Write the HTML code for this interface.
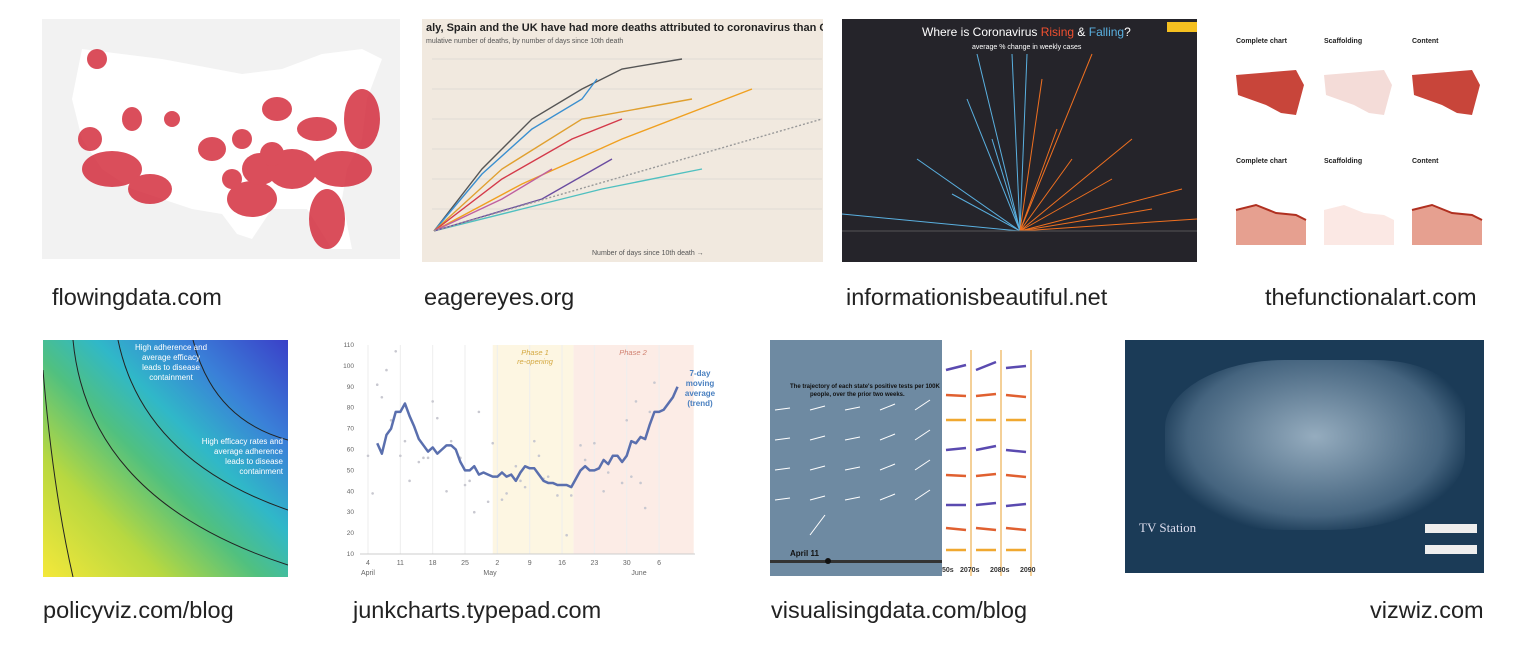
<!DOCTYPE html>
<html><head><meta charset="utf-8">
<style>
body{margin:0;width:1526px;height:655px;background:#fff;position:relative;overflow:hidden;font-family:"Liberation Sans",sans-serif}
.t{position:absolute;overflow:hidden}
.cap{position:absolute;font-size:23.5px;color:#222;white-space:nowrap;line-height:26px}
</style></head><body>

<div class="t" style="left:42px;top:19px;width:358px;height:240px;background:#f2f2f2">
<svg width="358" height="240">
<path d="M40 30 L120 40 L200 55 L240 50 L280 35 L320 30 L340 40 L325 80 L320 120 L305 150 L300 180 L310 230 L290 230 L265 190 L230 190 L210 220 L195 215 L180 195 L150 190 L120 180 L90 170 L60 150 L40 120 L30 80 Z" fill="#fff"/>
<g fill="#d22233" opacity="0.8">
<ellipse cx="70" cy="150" rx="30" ry="18"/><ellipse cx="108" cy="170" rx="22" ry="15"/><ellipse cx="48" cy="120" rx="12" ry="12"/>
<ellipse cx="90" cy="100" rx="10" ry="12"/><ellipse cx="210" cy="180" rx="25" ry="18"/><ellipse cx="218" cy="150" rx="18" ry="16"/>
<ellipse cx="285" cy="200" rx="18" ry="30"/><ellipse cx="300" cy="150" rx="30" ry="18"/><ellipse cx="320" cy="100" rx="18" ry="30"/>
<ellipse cx="275" cy="110" rx="20" ry="12"/><ellipse cx="235" cy="90" rx="15" ry="12"/><ellipse cx="250" cy="150" rx="25" ry="20"/>
<ellipse cx="170" cy="130" rx="14" ry="12"/><ellipse cx="200" cy="120" rx="10" ry="10"/><ellipse cx="55" cy="40" rx="10" ry="10"/>
<ellipse cx="130" cy="100" rx="8" ry="8"/><ellipse cx="230" cy="135" rx="12" ry="12"/><ellipse cx="190" cy="160" rx="10" ry="10"/>
</g></svg></div>
<div class="cap" style="left:52px;top:284px">flowingdata.com</div>

<div class="t" style="left:422px;top:19px;width:401px;height:243px;background:#f1e9df">
<svg width="401" height="243">
<text x="4" y="12" font-size="11" fill="#222" font-weight="bold">aly, Spain and the UK have had more deaths attributed to coronavirus than China did at the same stage</text>
<text x="4" y="24" font-size="7" fill="#555">mulative number of deaths, by number of days since 10th death</text>
<g stroke="#ccc" stroke-width="0.6">
<line x1="10" y1="40" x2="400" y2="40"/><line x1="10" y1="70" x2="400" y2="70"/><line x1="10" y1="100" x2="400" y2="100"/><line x1="10" y1="130" x2="400" y2="130"/><line x1="10" y1="160" x2="400" y2="160"/><line x1="10" y1="190" x2="400" y2="190"/>
</g>
<g fill="none" stroke-width="1.4">
<path d="M12 212 L60 150 L110 100 L160 70 L200 50 L260 40" stroke="#555"/>
<path d="M12 212 L60 155 L110 110 L160 80 L175 60" stroke="#3a8fd0"/>
<path d="M12 212 L80 150 L160 100 L270 80" stroke="#e0a030"/>
<path d="M12 212 L80 160 L150 120 L200 100" stroke="#d43a4a"/>
<path d="M12 212 L100 165 L200 120 L330 70" stroke="#f0a020"/>
<path d="M12 212 L100 190 L180 170 L280 150" stroke="#50c0c0"/>
<path d="M12 212 L80 180 L130 150" stroke="#c060a0"/>
<path d="M12 212 L120 180 L190 140" stroke="#6a4ca0"/>
<path d="M12 212 L400 100" stroke="#999" stroke-dasharray="2 2"/>
</g>
<text x="170" y="236" font-size="7" fill="#555">Number of days since 10th death →</text>
</svg></div>
<div class="cap" style="left:424px;top:284px">eagereyes.org</div>

<div class="t" style="left:842px;top:19px;width:355px;height:243px;background:#25242a">
<svg width="355" height="243">
<text x="80" y="17" font-size="12" fill="#fff">Where is Coronavirus <tspan fill="#f05030">Rising</tspan> &amp; <tspan fill="#5ab0e0">Falling</tspan>?</text>
<rect x="325" y="3" width="30" height="10" fill="#f5c020"/>
<text x="130" y="30" font-size="7" fill="#fff">average % change in weekly  cases</text>
<g stroke="#5ab0e0" stroke-width="1">
<line x1="178" y1="212" x2="0" y2="195"/><line x1="178" y1="212" x2="75" y2="140"/><line x1="178" y1="212" x2="125" y2="80"/><line x1="178" y1="212" x2="135" y2="35"/><line x1="178" y1="212" x2="150" y2="120"/><line x1="178" y1="212" x2="110" y2="175"/><line x1="178" y1="212" x2="170" y2="35"/><line x1="178" y1="212" x2="185" y2="35"/>
</g>
<g stroke="#f07020" stroke-width="1">
<line x1="178" y1="212" x2="250" y2="35"/><line x1="178" y1="212" x2="200" y2="60"/><line x1="178" y1="212" x2="290" y2="120"/><line x1="178" y1="212" x2="340" y2="170"/><line x1="178" y1="212" x2="355" y2="200"/><line x1="178" y1="212" x2="270" y2="160"/><line x1="178" y1="212" x2="230" y2="140"/><line x1="178" y1="212" x2="310" y2="190"/><line x1="178" y1="212" x2="215" y2="110"/>
</g>
<line x1="0" y1="212" x2="355" y2="212" stroke="#555"/>
</svg></div>
<div class="cap" style="left:846px;top:284px">informationisbeautiful.net</div>

<div class="t" style="left:1226px;top:25px;width:258px;height:237px;background:#fff">
<svg width="258" height="237">
<g font-size="7" font-weight="bold" fill="#222"><text x="10" y="18">Complete chart</text><text x="98" y="18">Scaffolding</text><text x="186" y="18">Content</text>
<text x="10" y="138">Complete chart</text><text x="98" y="138">Scaffolding</text><text x="186" y="138">Content</text></g>
<path d="M10 50 L70 45 L78 60 L70 90 L55 88 L40 80 L12 70 Z" fill="#c8453a"/>
<path d="M98 50 L158 45 L166 60 L158 90 L143 88 L128 80 L100 70 Z" fill="#f4dcd8"/>
<path d="M186 50 L246 45 L254 60 L246 90 L231 88 L216 80 L188 70 Z" fill="#c8453a"/>
<path d="M10 185 L30 180 L50 188 L70 190 L80 195 L80 220 L10 220 Z" fill="#e6a090"/>
<path d="M10 185 L30 180 L50 188 L70 190 L80 195" stroke="#b03020" stroke-width="2" fill="none"/>
<path d="M98 185 L118 180 L138 188 L158 190 L168 195 L168 220 L98 220 Z" fill="#fbe8e4"/>
<path d="M186 185 L206 180 L226 188 L246 190 L256 195 L256 220 L186 220 Z" fill="#e6a090"/>
<path d="M186 185 L206 180 L226 188 L246 190 L256 195" stroke="#b03020" stroke-width="2" fill="none"/>
</svg></div>
<div class="cap" style="left:1265px;top:284px">thefunctionalart.com</div>

<div class="t" style="left:43px;top:340px;width:245px;height:237px;background:linear-gradient(45deg,#f4e83a 0%,#b8d840 25%,#50c080 45%,#30b8c8 60%,#3a80d8 78%,#3a40c8 100%)">
<svg width="245" height="237">
<g fill="none" stroke="#222" stroke-width="1">
<path d="M30 0 Q45 160 245 225"/><path d="M75 0 Q100 120 245 170"/><path d="M150 0 Q170 80 245 100"/><path d="M0 30 Q10 150 30 237"/>
</g>
<text font-size="8" fill="#fff" text-anchor="middle"><tspan x="128" y="10">High adherence and</tspan><tspan x="128" dy="10">average efficacy</tspan><tspan x="128" dy="10">leads to disease</tspan><tspan x="128" dy="10">containment</tspan></text>
<text font-size="8" fill="#fff" text-anchor="end"><tspan x="240" y="104">High efficacy rates and</tspan><tspan x="240" dy="10">average adherence</tspan><tspan x="240" dy="10">leads to disease</tspan><tspan x="240" dy="10">containment</tspan></text>
</svg></div>
<div class="cap" style="left:43px;top:597px">policyviz.com/blog</div>

<div class="t" style="left:340px;top:338px;width:380px;height:245px;background:#fff">
<svg id="jc" width="380" height="245"></svg></div>
<div class="cap" style="left:353px;top:597px">junkcharts.typepad.com</div>

<div class="t" style="left:770px;top:340px;width:266px;height:236px;background:#fff">
<svg width="266" height="236">
<rect x="0" y="0" width="172" height="236" fill="#6e8aa2"/>
<text x="20" y="48" font-size="6" fill="#111" font-weight="bold">The trajectory of each state's positive tests per 100K</text>
<text x="40" y="56" font-size="6" fill="#111" font-weight="bold">people, over the prior two weeks.</text>
<g stroke="#fff" stroke-width="1">
<line x1="5" y1="70" x2="20" y2="68"/><line x1="40" y1="70" x2="55" y2="66"/><line x1="75" y1="70" x2="90" y2="67"/><line x1="110" y1="70" x2="125" y2="64"/><line x1="145" y1="70" x2="160" y2="60"/>
<line x1="5" y1="100" x2="20" y2="98"/><line x1="40" y1="100" x2="55" y2="96"/><line x1="75" y1="100" x2="90" y2="97"/><line x1="110" y1="100" x2="125" y2="94"/><line x1="145" y1="100" x2="160" y2="90"/>
<line x1="5" y1="130" x2="20" y2="128"/><line x1="40" y1="130" x2="55" y2="126"/><line x1="75" y1="130" x2="90" y2="127"/><line x1="110" y1="130" x2="125" y2="124"/><line x1="145" y1="130" x2="160" y2="120"/>
<line x1="5" y1="160" x2="20" y2="158"/><line x1="40" y1="160" x2="55" y2="156"/><line x1="75" y1="160" x2="90" y2="157"/><line x1="110" y1="160" x2="125" y2="154"/><line x1="145" y1="160" x2="160" y2="150"/>
<line x1="40" y1="195" x2="55" y2="175"/>
</g>
<text x="20" y="216" font-size="8" fill="#111" font-weight="bold">April 11</text>
<rect x="0" y="220" width="172" height="3" fill="#333"/><circle cx="58" cy="221" r="3" fill="#111"/>
<g stroke="#e9a030" stroke-width="1"><line x1="201" y1="10" x2="201" y2="236"/><line x1="231" y1="10" x2="231" y2="236"/><line x1="261" y1="10" x2="261" y2="236"/></g>
<g stroke-width="2.5">
<line x1="176" y1="30" x2="196" y2="25" stroke="#5a4ab0"/><line x1="206" y1="30" x2="226" y2="22" stroke="#5a4ab0"/><line x1="236" y1="28" x2="256" y2="26" stroke="#5a4ab0"/>
<line x1="176" y1="55" x2="196" y2="56" stroke="#e06030"/><line x1="206" y1="56" x2="226" y2="54" stroke="#e06030"/><line x1="236" y1="55" x2="256" y2="57" stroke="#e06030"/>
<line x1="176" y1="80" x2="196" y2="80" stroke="#f0a830"/><line x1="206" y1="80" x2="226" y2="80" stroke="#f0a830"/><line x1="236" y1="80" x2="256" y2="80" stroke="#f0a830"/>
<line x1="176" y1="110" x2="196" y2="108" stroke="#5a4ab0"/><line x1="206" y1="110" x2="226" y2="106" stroke="#5a4ab0"/><line x1="236" y1="110" x2="256" y2="112" stroke="#5a4ab0"/>
<line x1="176" y1="135" x2="196" y2="136" stroke="#e06030"/><line x1="206" y1="136" x2="226" y2="134" stroke="#e06030"/><line x1="236" y1="135" x2="256" y2="137" stroke="#e06030"/>
<line x1="176" y1="165" x2="196" y2="165" stroke="#5a4ab0"/><line x1="206" y1="165" x2="226" y2="163" stroke="#5a4ab0"/><line x1="236" y1="166" x2="256" y2="164" stroke="#5a4ab0"/>
<line x1="176" y1="188" x2="196" y2="190" stroke="#e06030"/><line x1="206" y1="188" x2="226" y2="190" stroke="#e06030"/><line x1="236" y1="188" x2="256" y2="190" stroke="#e06030"/>
<line x1="176" y1="210" x2="196" y2="210" stroke="#f0a830"/><line x1="206" y1="210" x2="226" y2="210" stroke="#f0a830"/><line x1="236" y1="210" x2="256" y2="210" stroke="#f0a830"/>
</g>
<g font-size="7" fill="#333" font-weight="bold"><text x="172" y="232">50s</text><text x="190" y="232">2070s</text><text x="220" y="232">2080s</text><text x="250" y="232">2090s</text></g>
</svg></div>
<div class="cap" style="left:771px;top:597px">visualisingdata.com/blog</div>

<div class="t" style="left:1125px;top:340px;width:359px;height:233px;background:#1b3b57">
<div style="position:absolute;left:40px;top:20px;width:300px;height:170px;border-radius:40% 30% 45% 40%;background:radial-gradient(ellipse at 50% 45%,rgba(190,210,225,.75),rgba(120,150,175,.45) 60%,rgba(27,59,87,0) 75%)"></div>
<div style="position:absolute;left:14px;top:180px;color:#dde;font-size:13px;font-family:'Liberation Serif',serif">TV Station</div>
<div style="position:absolute;left:300px;top:184px;width:52px;height:9px;background:#eee"></div>
<div style="position:absolute;left:300px;top:205px;width:52px;height:9px;background:#eee"></div>
</div>
<div class="cap" style="left:1370px;top:597px">vizwiz.com</div>

<script>
const maStart = 6; // April day of first moving-average value
const maValues = [63,58,67,70,78,78,82,76,71,65,62,59,61,58,60,62,62,60,54,50,50,52,48,49,48,47,47,49,47,48,45,49,52,51,51,48,45,44,44,43,43,43,42,46,50,52,50,50,51,55,53,57,57,54,57,64,63,66,65,72,78,78,79,82,85,90];
const dotDays = [4,5,6,7,8,9,10,11,12,13,15,16,17,18,19,21,22,24,25,26,27,28,30,31,33,34,36,37,38,40,41,42,43,45,47,48,50,51,53,55,56,57,59,60,61,62,63,64,65,66];
const dotValues = [57,39,91,85,98,74,107,57,64,45,54,56,56,83,75,40,64,56,43,45,30,78,35,63,36,39,52,45,42,64,57,46,47,38,19,38,62,55,63,40,49,57,44,74,47,83,44,32,78,92];
const yTicks = [10,20,30,40,50,60,70,80,90,100,110];
const xTickDays = [4,11,18,25,32,39,46,53,60,67];
const xTickLabels = ["4","11","18","25","2","9","16","23","30","6"];
const phase1 = [31, 48.5];
const phase2 = [48.5, 74.5];

const NS="http://www.w3.org/2000/svg";
const svg=document.getElementById('jc');
const X=d=>28+(d-4)*4.62;
const Y=v=>216-(v-10)*2.09;
function mk(t,a){const e=document.createElementNS(NS,t);for(const k in a)e.setAttribute(k,a[k]);svg.appendChild(e);return e;}
let r=mk('rect',{x:X(phase1[0]),y:7,width:X(phase1[1])-X(phase1[0]),height:209,fill:'#fdf6e2'});


r=mk('rect',{x:X(phase2[0]),y:7,width:X(phase2[1])-X(phase2[0]),height:209,fill:'#fcece6'});


xTickDays.forEach((d,i)=>{
  const l=mk('line',{x1:X(d),x2:X(d),y1:7,y2:216,stroke:'#eee'});
  
  
  const t=mk('text',{x:X(d),y:227,'font-size':7,fill:'#666','text-anchor':'middle'});
  t.textContent=xTickLabels[i];
  
  
});
yTicks.forEach(v=>{
  const t=mk('text',{x:14,y:Y(v)+2,'font-size':6.5,fill:'#666','text-anchor':'end'});
  t.textContent=v;
  
  
});
const ax=mk('line',{x1:20,x2:355,y1:216,y2:216,stroke:'#ccc'});


[["April",28],["May",150],["June",299]].forEach(([s,x])=>{
  const t=mk('text',{x:x,y:237,'font-size':7,fill:'#666','text-anchor':'middle'});
  t.textContent=s;
  
  
});
dotDays.forEach((d,i)=>{
  const c=mk('circle',{cx:X(d),cy:Y(dotValues[i]),r:1.3,fill:'#c8c8d0'});
  
  
});
const p=mk('polyline',{points:maValues.map((v,i)=>X(maStart+i)+','+Y(v)).join(' '),fill:'none',stroke:'#5a6fae','stroke-width':2.5,'stroke-linejoin':'round'});


[["Phase 1",195,17,'#d4a840'],["re-opening",195,26,'#d4a840'],["Phase 2",293,17,'#d08070']].forEach(([s,x,y,c])=>{
  const t=mk('text',{x:x,y:y,'font-size':7.5,fill:c,'font-style':'italic','text-anchor':'middle'});
  t.textContent=s;
  
  
});
["7-day","moving","average","(trend)"].forEach((s,i)=>{
  const t=mk('text',{x:360,y:38+i*10,'font-size':8,'font-weight':'bold',fill:'#4a80c0','text-anchor':'middle'});
  t.textContent=s;
  
  
});
</script>
</body></html>
